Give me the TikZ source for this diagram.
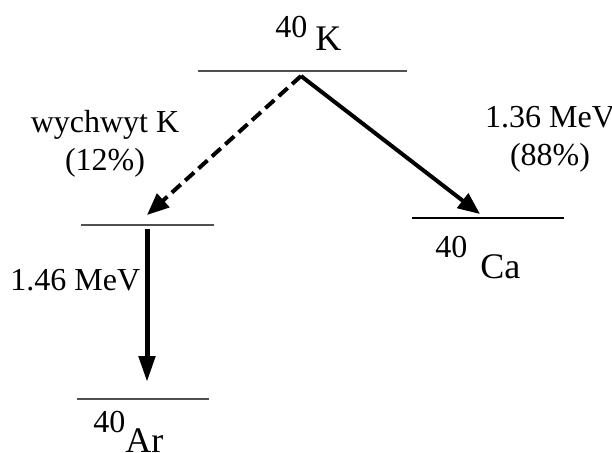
\documentclass[tikz,border=0pt]{standalone}
\usepackage{fontspec}
\setmainfont{Liberation Serif}
\usetikzlibrary{arrows.meta}
\definecolor{levelgray}{HTML}{505050}
\tikzset{
  levelline/.style={levelgray, line width=0.6pt},
  decayarrow/.style={line width=2pt, -{Triangle[length=11pt,width=9pt]}},
  lbl/.style={font=\fontsize{16}{19}\selectfont, inner sep=0pt, align=center},
  masslbl/.style={font=\fontsize{16}{19}\selectfont, inner sep=0pt, anchor=base west},
  symlbl/.style={font=\fontsize{18}{21}\selectfont, inner sep=0pt, anchor=base west},
}

\begin{document}
\begin{tikzpicture}[x=0.5pt, y=-0.5pt]
  \useasboundingbox (0,0) rectangle (612,452);

  % poziomy energetyczne
  \draw[levelline] (198,71) -- (407,71);
  \draw[levelline] (81,225) -- (214,225);
  \draw[line width=1.3pt] (412,218) -- (564,218);
  \draw[levelline] (77,399) -- (209,399);

  % punkty koncowe przejsc
  \coordinate (kstart) at (301,76);
  \coordinate (arexc) at (147,215);
  \coordinate (caend) at (480,214);
  \coordinate (arstart) at (147,229);
  \coordinate (arend) at (147,382);

  % przejscia
  \draw[decayarrow, dash pattern=on 6pt off 3pt] (kstart) -- (arexc);
  \draw[decayarrow] (kstart) -- (caend);
  \draw[line width=2.5pt, -{Triangle[length=13pt,width=8pt]}] (arstart) -- (arend);

  % nuklidy
  \node[masslbl] (kmass) at (275,37) {40};
  \node[symlbl] (ksym) at (315,50) {K};
  \node[masslbl] (camass) at (435,257) {40};
  \node[symlbl] (casym) at (480,278) {Ca};
  \node[masslbl] (armass) at (93,432) {40};
  \node[symlbl] (arsym) at (125,452) {Ar};

  % opisy
  \node[lbl, anchor=base] (capture) at (105,170) {wychwyt K\\(12\%)};
  \node[lbl, anchor=base] (beta) at (550,165) {1.36 MeV\\(88\%)};
  \node[lbl, anchor=base west] (gamma) at (10,290) {1.46 MeV};
\end{tikzpicture}
\end{document}
